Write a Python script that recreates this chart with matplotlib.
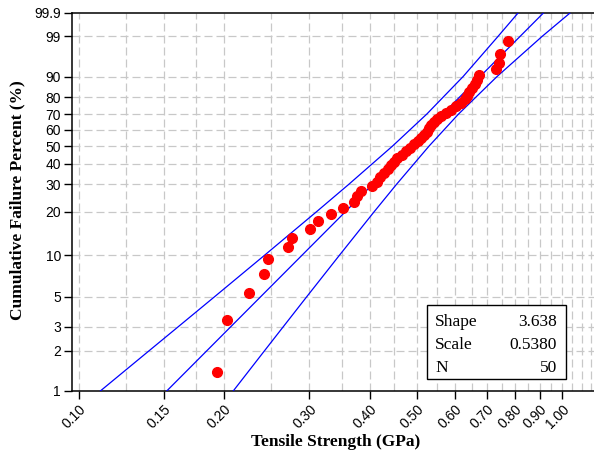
import numpy as np
import matplotlib
matplotlib.use("Agg")
import matplotlib.pyplot as plt
from matplotlib.ticker import NullLocator
from matplotlib.patches import Rectangle

# ---------------- data ----------------
strength = [0.1931, 0.2025, 0.2249, 0.2416, 0.2462, 0.2708, 0.2760, 0.3008, 0.3125, 0.3325,
            0.3520, 0.3710, 0.3763, 0.3836, 0.4042, 0.4140, 0.4199, 0.4280, 0.4363, 0.4426,
            0.4489, 0.4554, 0.4664, 0.4754, 0.4845, 0.4939, 0.5034, 0.5106, 0.5180, 0.5254,
            0.5305, 0.5356, 0.5433, 0.5511, 0.5617, 0.5753, 0.5892, 0.6034, 0.6179, 0.6299,
            0.6359, 0.6420, 0.6512, 0.6606, 0.6670, 0.6717, 0.7317, 0.7405, 0.7458, 0.7718]
failure_pct = [1.39, 3.37, 5.36, 7.34, 9.33, 11.31, 13.29, 15.28, 17.26, 19.25,
               21.23, 23.21, 25.20, 27.18, 29.17, 31.15, 33.13, 35.12, 37.10, 39.09,
               41.07, 43.06, 45.04, 47.02, 49.01, 50.99, 52.98, 54.96, 56.94, 58.93,
               60.91, 62.90, 64.88, 66.87, 68.85, 70.83, 72.82, 74.80, 76.79, 78.77,
               80.75, 82.74, 84.72, 86.71, 88.69, 90.67, 92.66, 94.64, 96.63, 98.61]

shape = 3.638
scale = 0.5380
n_samples = 50

bound_pct = [1, 2, 3, 5, 10, 20, 30, 50, 70, 90, 99, 99.9]
upper_bound = [0.1107, 0.1398, 0.1604, 0.1909, 0.2425, 0.3105, 0.3616, 0.4459,
               0.5249, 0.6241, 0.7370, 0.8110]
lower_bound = [0.2086, 0.2423, 0.2647, 0.2962, 0.3464, 0.4086, 0.4541, 0.5307,
               0.6106, 0.7336, 0.9093, 1.0390]

fit_pct = [1.0, 99.9]

x_tick_vals = [0.10, 0.15, 0.20, 0.30, 0.40, 0.50, 0.60, 0.70, 0.80, 0.90, 1.00]
x_tick_labels = ["0.10", "0.15", "0.20", "0.30", "0.40", "0.50", "0.60", "0.70",
                 "0.80", "0.90", "1.00"]
x_grid_vals = [0.10, 0.125, 0.15, 0.175, 0.20, 0.25, 0.30, 0.35, 0.40, 0.45, 0.50,
               0.55, 0.60, 0.65, 0.70, 0.75, 0.80, 0.85, 0.90, 0.95, 1.00, 1.05,
               1.10, 1.15]
y_tick_vals = [1, 2, 3, 5, 10, 20, 30, 40, 50, 60, 70, 80, 90, 99, 99.9]
y_tick_labels = ["1", "2", "3", "5", "10", "20", "30", "40", "50", "60", "70",
                 "80", "90", "99", "99.9"]
y_grid_vals = [2, 3, 5, 10, 20, 30, 40, 50, 60, 70, 80, 90, 99]

# ---------------- figure ----------------
W, H = 594, 459
fig = plt.figure(figsize=(W / 100, H / 100), dpi=100)


def fx(px):
    return px / W


def fy(py):
    return 1 - py / H


ax = fig.add_axes([fx(72), fy(391), fx(594) - fx(72), fy(13) - fy(391)])


def weib_fwd(p):
    p = np.clip(np.asarray(p, dtype=float), 1e-6, 100 - 1e-9)
    return np.log(-np.log(1 - p / 100.0))


def weib_inv(w):
    return 100.0 * (1 - np.exp(-np.exp(np.asarray(w, dtype=float))))


ax.set_xscale("log")
ax.set_yscale("function", functions=(weib_fwd, weib_inv))
ax.set_xlim(0.09672, 1.1649)
ax.set_ylim(1, 99.9)

grid_kw = dict(color="#c8c8c8", lw=0.9, ls=(0, (6.4, 3.2)), zorder=0)
for gx in x_grid_vals:
    ax.axvline(gx, **grid_kw)
for gy in y_grid_vals:
    ax.axhline(gy, **grid_kw)

# fitted line from displayed parameters
fit_x = [scale * (-np.log(1 - p / 100.0)) ** (1.0 / shape) for p in fit_pct]
ax.plot(fit_x, fit_pct, color="#0000ff", lw=0.9, zorder=3)
ax.plot(upper_bound, bound_pct, color="#0000ff", lw=0.9, zorder=3)
ax.plot(lower_bound, bound_pct, color="#0000ff", lw=0.9, zorder=3)

ax.plot(strength, failure_pct, "o", color="#ff0000", mec="#ff0000", ms=7, zorder=5)

ax.set_xticks(x_tick_vals)
ax.set_xticklabels(x_tick_labels)
ax.set_yticks(y_tick_vals)
ax.set_yticklabels(y_tick_labels)
ax.xaxis.set_minor_locator(NullLocator())
ax.yaxis.set_minor_locator(NullLocator())

ax.tick_params(axis="both", direction="out", length=6, width=1.0, color="black",
               labelsize=10, labelcolor="black")
ax.tick_params(axis="x", pad=2)
ax.tick_params(axis="y", pad=2)
for lab in ax.get_xticklabels():
    lab.set_rotation(45)
    lab.set_ha("right")
    lab.set_va("top")
    lab.set_rotation_mode("anchor")
    lab.set_fontfamily("Liberation Sans")
for lab in ax.get_yticklabels():
    lab.set_fontfamily("Liberation Sans")

for side in ["left", "bottom", "top"]:
    ax.spines[side].set_linewidth(1.1)
    ax.spines[side].set_color("black")
ax.spines["right"].set_visible(False)

fig.text(fx(336), fy(442), "Tensile Strength (GPa)", ha="center", va="center",
         fontsize=12.5, fontweight="bold", family="Liberation Serif")
fig.text(fx(17), fy(200), "Cumulative Failure Percent (%)", ha="center", va="center",
         rotation=90, fontsize=12.5, fontweight="bold", family="Liberation Serif")

# parameter box
box = Rectangle((fx(427), fy(379)), fx(566) - fx(427), fy(305) - fy(379),
                transform=fig.transFigure, facecolor="white", edgecolor="black",
                lw=1.0, zorder=10)
fig.add_artist(box)
rows = [("Shape", f"{shape:.3f}", 322), ("Scale", f"{scale:.4f}", 345),
        ("N", f"{n_samples}", 368)]
for name, val, yy in rows:
    fig.text(fx(435), fy(yy), name, ha="left", va="center", fontsize=12.5,
             family="Liberation Serif", zorder=11)
    fig.text(fx(557), fy(yy), val, ha="right", va="center", fontsize=12.5,
             family="Liberation Serif", zorder=11)

fig.savefig("out.png", dpi=100)
